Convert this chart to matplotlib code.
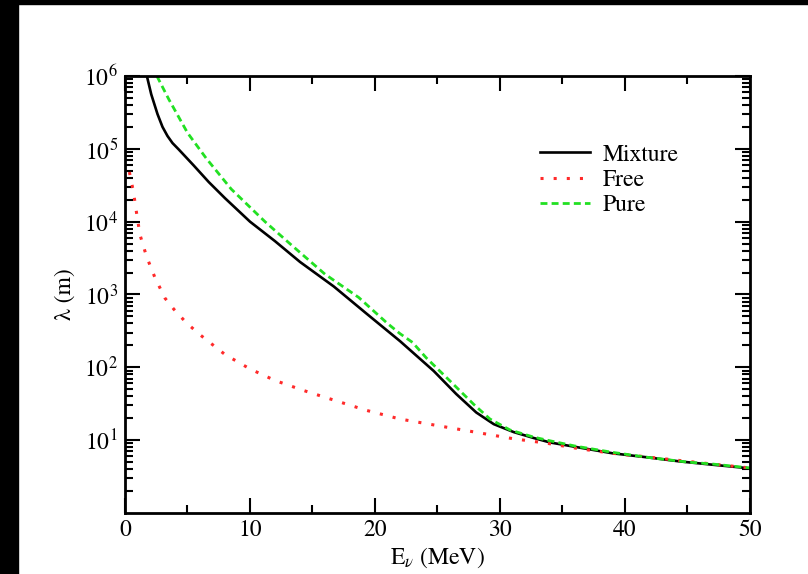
import matplotlib
matplotlib.use("Agg")
import matplotlib.pyplot as plt
from matplotlib.patches import Rectangle
from matplotlib.ticker import LogLocator, MultipleLocator, NullFormatter

# ---- data ----
mix_E = [1.75, 2.1, 2.6, 3.0, 3.4, 3.8, 4.3, 5.5, 6.7, 8.0, 10.0, 12.0, 14.0,
         16.7, 19.3, 22.0, 24.7, 26.5, 28.1, 29.5, 31.1, 32.7, 34.0, 36.0,
         39.0, 42.0, 44.4, 47.0, 50.0]
mix_lam = [1.0e6, 5.6e5, 3.0e5, 2.0e5, 1.5e5, 1.2e5, 9.8e4, 5.9e4, 3.5e4,
           2.1e4, 1.0e4, 5.4e3, 2.8e3, 1.29e3, 550, 229, 89, 43, 24, 16.6,
           12.9, 10.7, 9.3, 8.1, 6.6, 5.75, 5.1, 4.6, 4.1]

free_E = [0.35, 0.67, 0.93, 1.2, 1.73, 2.4, 3.2, 3.9, 4.9, 6.0, 8.0, 10.0,
          12.0, 14.3, 16.7, 19.3, 22.0, 25.7, 28.0, 31.0, 33.7, 36.4, 39.0,
          41.7, 44.4, 47.0, 50.0]
free_lam = [4.8e4, 2.6e4, 1.3e4, 6.6e3, 3.3e3, 1.7e3, 890, 630, 410, 280,
            150, 95, 66, 48, 35.5, 25.7, 19.5, 15.1, 12.9, 10.5, 9.1, 7.6,
            6.6, 5.9, 5.25, 4.7, 4.15]

pure_E = [2.55, 3.5, 5.0, 6.5, 8.5, 11.2, 13.3, 16.0, 18.7, 21.0, 22.0, 23.0,
          24.1, 26.0, 27.9, 29.2, 30.8, 32.7, 34.0, 36.0, 39.0, 42.0, 45.0,
          47.0, 50.0]
pure_lam = [1.0e6, 4.8e5, 1.66e5, 7.4e4, 2.8e4, 1.0e4, 4.8e3, 1.9e3, 910,
            400, 290, 220, 135, 65, 31, 19.5, 13.8, 11.0, 9.8, 8.3, 6.8,
            5.75, 5.0, 4.7, 4.15]

series_labels = ["Mixture", "Free", "Pure"]
x_ticks = [0, 10, 20, 30, 40, 50]

plt.rcParams["font.family"] = ["STIXGeneral", "DejaVu Serif"]
plt.rcParams["mathtext.fontset"] = "stix"

fig = plt.figure(figsize=(8.08, 5.74), dpi=100)
fig.patch.set_facecolor("white")
ax = fig.add_axes([0.1547, 0.1063, 0.7735, 0.7613])

ax.plot(mix_E, mix_lam, color="black", lw=1.9, label=series_labels[0])
ax.plot(free_E, free_lam, color="#ff2a2a", lw=2.2, linestyle=(0, (1, 3.3)),
        label=series_labels[1])
ax.plot(pure_E, pure_lam, color="#22e022", lw=2.0, linestyle=(0, (2.5, 1.5)),
        label=series_labels[2])

ax.set_yscale("log")
ax.set_xlim(0, 50)
ax.set_ylim(1, 1e6)
ax.set_xticks(x_ticks)
ax.xaxis.set_minor_locator(MultipleLocator(5))
ax.yaxis.set_minor_locator(LogLocator(base=10, subs=range(2, 10), numticks=100))
ax.yaxis.set_minor_formatter(NullFormatter())
ax.set_yticks([1e1, 1e2, 1e3, 1e4, 1e5, 1e6])

ax.tick_params(which="both", direction="in", top=True, right=True, width=1.5,
               labelsize=17, colors="black")
ax.tick_params(which="major", length=11, pad=5)
ax.tick_params(which="minor", length=6)
for s in ax.spines.values():
    s.set_linewidth(2.0)

ax.set_xlabel(r"E$_{\nu}$ (MeV)", fontsize=17, labelpad=3)
ax.set_ylabel(r"λ (m)", fontsize=17, labelpad=6)

leg = ax.legend(loc="center left", bbox_to_anchor=(0.664, 0.762), frameon=False,
                fontsize=17, handlelength=2.1, handletextpad=0.55,
                labelspacing=0.15, borderpad=0, borderaxespad=0)

# black strips at top and left edge of the image
fig.patches.append(Rectangle((0, 0), 18 / 808, 1, transform=fig.transFigure,
                             color="black", zorder=10))
fig.patches.append(Rectangle((0, 1 - 4 / 574), 1, 4 / 574, transform=fig.transFigure,
                             color="black", zorder=10))

fig.savefig("out.png", dpi=100)
